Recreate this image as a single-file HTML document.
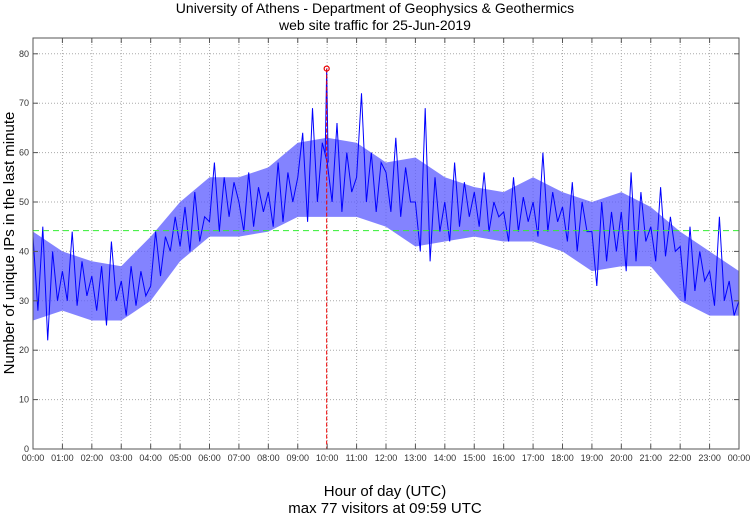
<!DOCTYPE html>
<html><head><meta charset="utf-8"><style>
html,body{margin:0;padding:0;background:#fff;}
svg{display:block;font-family:"Liberation Sans",sans-serif;}
</style></head><body>
<svg id="chart" width="750" height="515" xmlns="http://www.w3.org/2000/svg">
<text x="375" y="13" text-anchor="middle" font-size="14">University of Athens - Department of Geophysics &amp; Geothermics</text>
<text x="375" y="30" text-anchor="middle" font-size="14">web site traffic for 25-Jun-2019</text>
<text transform="translate(14,243) rotate(-90)" text-anchor="middle" font-size="15">Number of unique IPs in the last minute</text>
<text x="385" y="496" text-anchor="middle" font-size="15">Hour of day (UTC)</text>
<text x="385" y="513" text-anchor="middle" font-size="15">max 77 visitors at 09:59 UTC</text>
<g id="grid"></g><g id="series"></g><g id="ticks"></g>
<rect x="33" y="38" width="706" height="411" fill="none" stroke="#555" stroke-width="1"/>
</svg>
<script>
const yTicks=[0,10,20,30,40,50,60,70,80];
const xTickLabels=["00:00","01:00","02:00","03:00","04:00","05:00","06:00","07:00","08:00","09:00","10:00","11:00","12:00","13:00","14:00","15:00","16:00","17:00","18:00","19:00","20:00","21:00","22:00","23:00","00:00"];
const visitors=[43,28,45,22,40,30, 36,30,44,29,38,31, 35,28,37,25,42,30, 34,27,37,29,36,31,
33,44,35,43,40,47, 41,49,40,52,42,47, 46,58,44,55,47,54, 50,44,56,45,53,48,
52,45,58,46,56,50, 55,64,46,69,50,62, 58,50,66,48,60,52, 55,72,50,60,48,58,
56,48,63,47,57,50, 50,40,69,38,55,44, 50,42,58,45,54,47, 52,45,56,44,50,47,
48,42,55,44,51,46, 50,43,60,44,52,46, 49,42,54,40,50,44, 44,33,50,38,48,40,
48,36,56,38,52,42, 45,38,53,39,47,40, 41,30,45,32,40,34, 36,29,47,30,34,27,30];
// hourly envelope (low/high)
const hourLow=[26,28,26,26,30,38,43,43,44,47,47,47,45,41,42,43,42,42,40,36,37,37,30,27,27];
const hourHigh=[44,40,38,37,43,50,55,55,57,62,63,62,58,59,55,53,52,55,52,50,52,49,44,40,36];
const avgVisitors=44.2;
const maxVisitors=77, maxHour=9+59/60;
const X0=33,X1=739,Y0=449,PPU=4.94;
const xs=h=>X0+(X1-X0)*h/24, ys=v=>Y0-v*PPU;
const NS="http://www.w3.org/2000/svg";
function mk(t,a,p){const e=document.createElementNS(NS,t);for(const k in a)e.setAttribute(k,a[k]);p.appendChild(e);return e;}
const grid=document.getElementById('grid'),ticks=document.getElementById('ticks'),ser=document.getElementById('series');
yTicks.forEach(v=>{
 if(v>0){const l=mk('line',{x1:X0,x2:X1,y1:ys(v),y2:ys(v),stroke:'#aaa','stroke-dasharray':'1,2'},grid);
 }
 mk('line',{x1:X0,x2:X0+5,y1:ys(v),y2:ys(v),stroke:'#555'},ticks);
 mk('line',{x1:X1-5,x2:X1,y1:ys(v),y2:ys(v),stroke:'#555'},ticks);
 const t=mk('text',{x:X0-4,y:ys(v)+3,'text-anchor':'end','font-size':9,fill:'#333'},ticks);t.textContent=v;
 
});
xTickLabels.forEach((s,i)=>{
 const x=xs(i);
 if(i>0&&i<24){const l=mk('line',{x1:x,x2:x,y1:38,y2:Y0,stroke:'#aaa','stroke-dasharray':'1,2'},grid);
 }
 mk('line',{x1:x,x2:x,y1:Y0-5,y2:Y0,stroke:'#555'},ticks);
 mk('line',{x1:x,x2:x,y1:38,y2:43,stroke:'#555'},ticks);
 const t=mk('text',{x:x,y:461,'text-anchor':'middle','font-size':9,fill:'#333'},ticks);t.textContent=s;
 
});
let band='';
hourHigh.forEach((v,i)=>{band+=(i?'L':'M')+xs(Math.min(i,24))+','+ys(v);});
for(let i=hourLow.length-1;i>=0;i--)band+='L'+xs(i)+','+ys(hourLow[i]);
const b=mk('path',{d:band+'Z',fill:'#5a5aff',opacity:0.75},ser);

const step=24/(visitors.length-1);
let d='';visitors.forEach((v,i)=>{let h=i*step;d+=(i?'L':'M')+xs(h).toFixed(1)+','+ys(v).toFixed(1);});
const ln=mk('path',{d:d,fill:'none',stroke:'#0000ff','stroke-width':1},ser);

const sp=mk('path',{d:'M'+xs(maxHour-0.05)+','+ys(60)+'L'+xs(maxHour)+','+ys(maxVisitors)+'L'+xs(maxHour+0.05)+','+ys(58),fill:'none',stroke:'#0000ff'},ser);

const av=mk('line',{x1:X0,x2:X1,y1:ys(avgVisitors),y2:ys(avgVisitors),stroke:'#33ee33','stroke-dasharray':'6,4'},ser);

const mv=mk('line',{x1:xs(maxHour),x2:xs(maxHour),y1:ys(maxVisitors),y2:Y0,stroke:'#ee0000','stroke-dasharray':'4,2'},ser);

const mc=mk('circle',{cx:xs(maxHour),cy:ys(maxVisitors),r:2.5,fill:'none',stroke:'#ee0000','stroke-width':1.2},ser);

</script>
</body></html>
